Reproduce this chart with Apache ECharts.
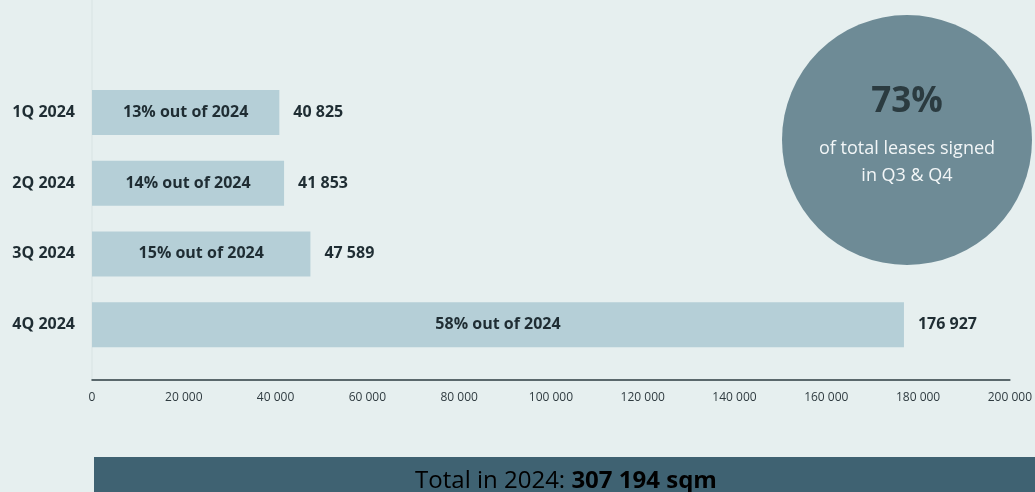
<!DOCTYPE html>
<html>
<head>
<meta charset="utf-8">
<script src="https://cdn.jsdelivr.net/npm/echarts@6/dist/echarts.min.js"></script>
<style>
  html, body { margin: 0; padding: 0; background: #e6efef; }
  #chart { width: 1035px; height: 492px; }
</style>
</head>
<body>
<div id="chart"></div>
<script>
const categories = ['1Q 2024', '2Q 2024', '3Q 2024', '4Q 2024']
const leased = [40825, 41853, 47589, 176927]
const shareOfYear = [13, 14, 15, 58]
const xTicks = { min: 0, max: 200000, interval: 20000 }
const totalText = { label: 'Total in 2024: ', value: '307 194 sqm' }
const circleText = { big: '73%', small: ['of total leases signed', 'in Q3 & Q4'] }

const fmt = (v) => String(v).replace(/\B(?=(\d{3})+(?!\d))/g, ' ')

const font = '"Open Sans", "Noto Sans", sans-serif'
const dark = '#1f2d33'

const chart = echarts.init(document.getElementById('chart'), null, { renderer: 'canvas' })

const option = {
  backgroundColor: '#e6efef',
  animation: false,
  textStyle: { fontFamily: font },
  grid: { left: 92, right: 23, top: 77, bottom: 132 },
  xAxis: {
    type: 'value',
    min: xTicks.min,
    max: xTicks.max,
    interval: xTicks.interval,
    offset: 20,
    axisLine: { show: true, lineStyle: { color: '#2d3d42', width: 1.5 } },
    axisTick: { show: false },
    splitLine: { show: false },
    axisLabel: {
      margin: 12,
      fontSize: 12,
      color: '#2f3b40',
      fontFamily: font,
      formatter: (v) => fmt(v)
    }
  },
  yAxis: {
    type: 'category',
    inverse: true,
    data: categories,
    axisLine: { show: false },
    axisTick: { show: false },
    axisLabel: {
      margin: 17,
      fontSize: 16,
      fontWeight: 'bold',
      color: dark,
      fontFamily: font
    }
  },
  series: [
    {
      // bars with share inside
      type: 'bar',
      barWidth: 45,
      data: leased,
      itemStyle: { color: '#b5cfd7' },
      label: {
        show: true,
        position: 'inside',
        fontSize: 16,
        fontWeight: 'bold',
        color: dark,
        fontFamily: font,
        formatter: (p) => shareOfYear[p.dataIndex] + '% out of 2024'
      },
      z: 2
    },
    {
      // value label at bar end
      type: 'bar',
      barWidth: 45,
      barGap: '-100%',
      silent: true,
      data: leased,
      itemStyle: { color: 'rgba(0,0,0,0)' },
      label: {
        show: true,
        position: 'right',
        distance: 14,
        fontSize: 16,
        fontWeight: 'bold',
        color: dark,
        fontFamily: font,
        formatter: (p) => fmt(p.value)
      },
      z: 3
    }
  ],
  graphic: [
    {
      type: 'line',
      shape: { x1: 92, y1: 0, x2: 92, y2: 380 },
      style: { stroke: '#d8e3e3', lineWidth: 1 },
      z: 0
    },
    {
      type: 'circle',
      shape: { cx: 907, cy: 140, r: 125 },
      style: { fill: '#6e8b96' },
      z: 5
    },
    {
      type: 'text',
      x: 907,
      y: 102,
      style: {
        text: circleText.big,
        fill: '#2b3b40',
        font: 'bold 35px ' + font,
        align: 'center',
        verticalAlign: 'middle'
      },
      z: 6
    },
    {
      type: 'text',
      x: 907,
      y: 162,
      style: {
        text: circleText.small.join('\n'),
        fill: '#f2f6f7',
        font: '18px ' + font,
        lineHeight: 27,
        align: 'center',
        verticalAlign: 'middle'
      },
      z: 6
    },
    {
      type: 'rect',
      shape: { x: 94, y: 457, width: 941, height: 40 },
      style: { fill: '#3f6272' },
      z: 5
    },
    {
      type: 'text',
      x: 566,
      y: 481,
      style: {
        text: '{a|' + totalText.label + '}{b|' + totalText.value + '}',
        align: 'center',
        verticalAlign: 'middle',
        rich: {
          a: { fontSize: 24, fontFamily: font, color: '#ffffff' },
          b: { fontSize: 24, fontFamily: font, fontWeight: 'bold', color: '#ffffff' }
        }
      },
      z: 6
    }
  ]
}

chart.setOption(option)
</script>
</body>
</html>
